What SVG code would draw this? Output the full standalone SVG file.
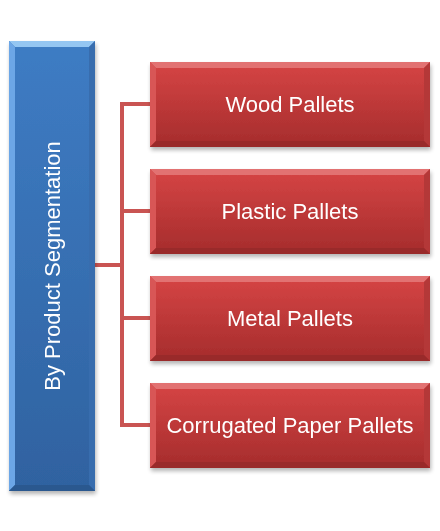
<svg xmlns="http://www.w3.org/2000/svg" width="440" height="531" viewBox="0 0 440 531">
<defs>
<linearGradient id="gBlue" x1="0" y1="0" x2="0" y2="1"><stop offset="0" stop-color="#3e7cc4"/><stop offset="1" stop-color="#2f62a0"/></linearGradient>
<linearGradient id="gRed" x1="0" y1="0" x2="0" y2="1"><stop offset="0" stop-color="#d64545"/><stop offset="1" stop-color="#a52c2c"/></linearGradient>
<filter id="sh" x="-10%" y="-10%" width="125%" height="125%"><feGaussianBlur in="SourceAlpha" stdDeviation="2"/><feOffset dx="1" dy="3"/><feComponentTransfer><feFuncA type="linear" slope="0.3"/></feComponentTransfer><feMerge><feMergeNode/><feMergeNode in="SourceGraphic"/></feMerge></filter>
<style>
.lbl{font-family:"Liberation Sans",Arial,sans-serif;font-size:22px;fill:#ffffff;text-anchor:middle;dominant-baseline:central}
.con{stroke:#c95452;stroke-width:4;fill:none}
.bt{fill:#e27272}.bl{fill:#d85656}.br{fill:#b43939}.bb{fill:#992929}
</style>
</defs>
<g id="connectors">
<path class="con" d="M95 265H122M122 104V425M120 104H150M120 211H150M120 318H150M120 425H150"/>
</g>
<g id="root" filter="url(#sh)">
<rect x="9" y="41" width="86" height="450" fill="url(#gBlue)"/>
<polygon points="9,41 95,41 89,47 15,47" fill="#94c6f2"/>
<polygon points="9,41 15,47 15,485 9,491" fill="#6ca6e6"/>
<polygon points="95,41 95,491 89,485 89,47" fill="#386dae"/>
<polygon points="9,491 95,491 89,485 15,485" fill="#2a588f"/>
<text class="lbl" transform="translate(52,266) rotate(-90)">By Product Segmentation</text>
</g>
<g id="wood" filter="url(#sh)">
<rect x="150" y="62" width="280" height="85" fill="url(#gRed)"/>
<polygon class="bt" points="150,62 430,62 424,68 156,68"/>
<polygon class="bl" points="150,62 156,68 156,141 150,147"/>
<polygon class="br" points="430,62 430,147 424,141 424,68"/>
<polygon class="bb" points="150,147 430,147 424,141 156,141"/>
<text class="lbl" x="290" y="104">Wood Pallets</text>
</g>
<g id="plastic" filter="url(#sh)">
<rect x="150" y="169" width="280" height="85" fill="url(#gRed)"/>
<polygon class="bt" points="150,169 430,169 424,175 156,175"/>
<polygon class="bl" points="150,169 156,175 156,248 150,254"/>
<polygon class="br" points="430,169 430,254 424,248 424,175"/>
<polygon class="bb" points="150,254 430,254 424,248 156,248"/>
<text class="lbl" x="290" y="211">Plastic Pallets</text>
</g>
<g id="metal" filter="url(#sh)">
<rect x="150" y="276" width="280" height="85" fill="url(#gRed)"/>
<polygon class="bt" points="150,276 430,276 424,282 156,282"/>
<polygon class="bl" points="150,276 156,282 156,355 150,361"/>
<polygon class="br" points="430,276 430,361 424,355 424,282"/>
<polygon class="bb" points="150,361 430,361 424,355 156,355"/>
<text class="lbl" x="290" y="318">Metal Pallets</text>
</g>
<g id="paper" filter="url(#sh)">
<rect x="150" y="383" width="280" height="85" fill="url(#gRed)"/>
<polygon class="bt" points="150,383 430,383 424,389 156,389"/>
<polygon class="bl" points="150,383 156,389 156,462 150,468"/>
<polygon class="br" points="430,383 430,468 424,462 424,389"/>
<polygon class="bb" points="150,468 430,468 424,462 156,462"/>
<text class="lbl" x="290" y="425">Corrugated Paper Pallets</text>
</g>
</svg>
